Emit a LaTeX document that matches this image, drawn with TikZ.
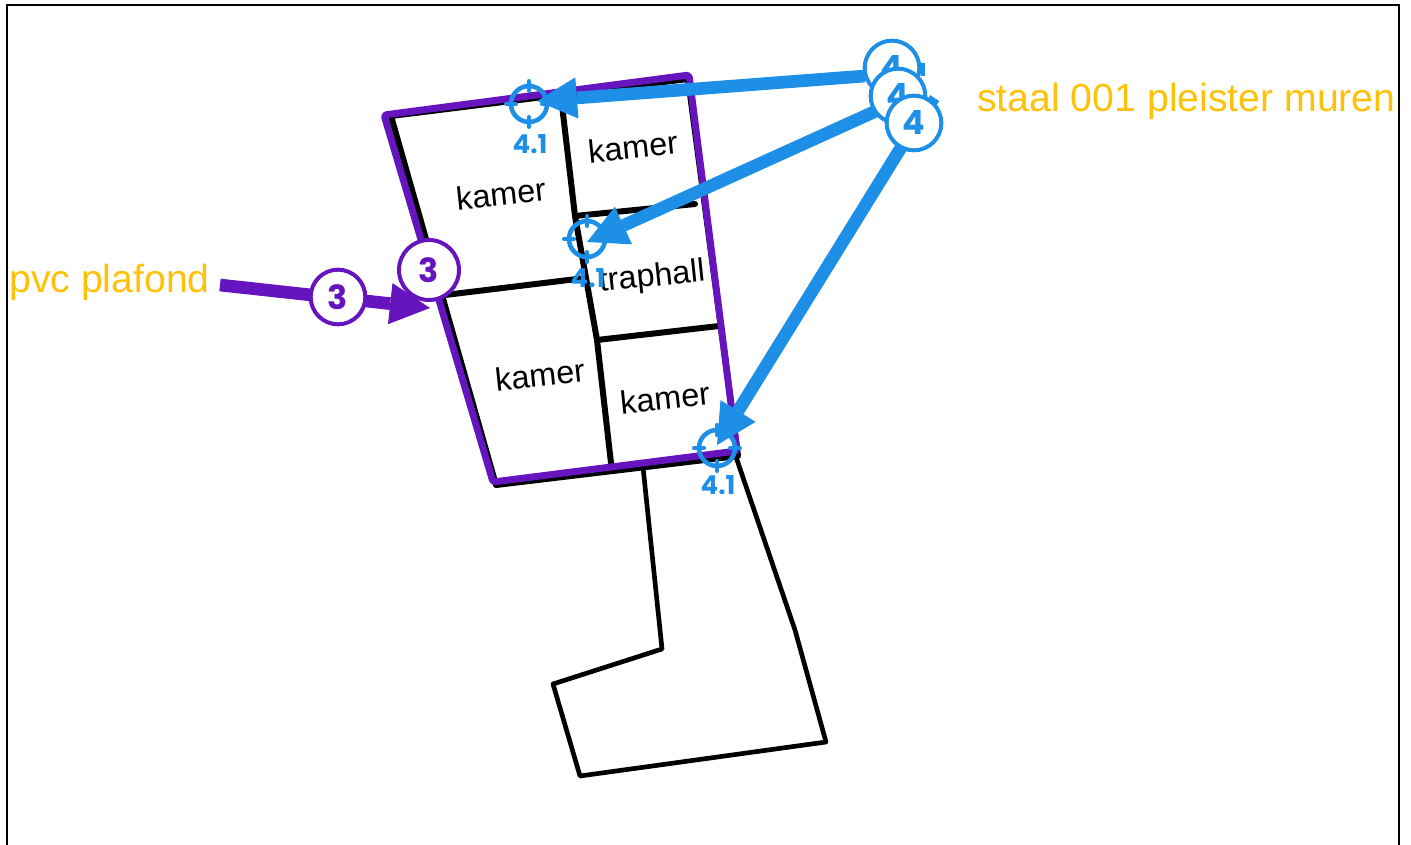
\documentclass[tikz,border=0pt]{standalone}
\usepackage{fontspec}
\setmainfont{Liberation Sans}
\newfontfamily\badgefont{Poppins}
\usetikzlibrary{arrows.meta}
\definecolor{amberc}{HTML}{FFC107}
\definecolor{bluec}{HTML}{1E8FE6}
\definecolor{purplec}{HTML}{6614BE}
\tikzset{
  px/.style={x=0.75pt,y=-0.75pt},
  frameline/.style={draw=black,line width=2pt},
  wall/.style={draw=black,line width=4.5pt,line cap=round,line join=round},
  thinwall/.style={draw=black,line width=3.5pt,line cap=round,line join=round},
  ceiling/.style={draw=purplec,line width=5.2pt,line join=round,rounded corners=2pt},
  room/.style={font=\fontsize{24.3pt}{26pt}\selectfont,text=black,rotate=6,inner sep=0pt},
  material/.style={font=\fontsize{29.4pt}{31pt}\selectfont,text=amberc,inner sep=0pt,anchor=west},
  bluearrow/.style={draw=bluec,line width=9.5pt,-{Triangle[length=30pt,width=31pt,line width=0pt,fill=bluec]}},
  purplearrow/.style={draw=purplec,line width=9.5pt,-{Triangle[length=30pt,width=31pt,line width=0pt,fill=purplec]}},
  badge/.style={circle,fill=white,line width=3pt,inner sep=0pt,font=\badgefont\bfseries\fontsize{25pt}{27pt}\selectfont},
  smallbadge/.style={badge,minimum size=41pt},
  bigbadge/.style={badge,minimum size=45pt},
  target/.style={circle,draw=bluec,line width=3.4pt,minimum size=27pt,inner sep=0pt},
  targetlabel/.style={font=\badgefont\bfseries\fontsize{19.5pt}{21pt}\selectfont,text=bluec,inner sep=0pt},
  tick/.style={draw=bluec,line width=3.6pt,line cap=round},
  stub/.style={draw=bluec,line width=3.4pt}
}
\newcommand{\targetticks}[1]{%
  \draw[tick] ([yshift=10pt]#1.center) -- ([yshift=17pt]#1.center);
  \draw[tick] ([yshift=-10pt]#1.center) -- ([yshift=-17pt]#1.center);
  \draw[tick] ([xshift=10pt]#1.center) -- ([xshift=17pt]#1.center);
  \draw[tick] ([xshift=-10pt]#1.center) -- ([xshift=-17pt]#1.center);
}
\begin{document}
\begin{tikzpicture}[px]
\useasboundingbox (0,0) rectangle (1411,845);
% frame
\coordinate (fa) at (7,850);
\coordinate (fb) at (7,5);
\coordinate (fc) at (1399,5);
\coordinate (fd) at (1399,850);
\begin{scope}
\clip (0,0) rectangle (1411,845);
\draw[frameline] (fa) -- (fb) -- (fc) -- (fd);
\end{scope}
% annex outline
\coordinate (a1) at (643,467);
\coordinate (a2) at (662,649);
\coordinate (a3) at (553,684);
\coordinate (a4) at (580,776);
\coordinate (a5) at (826,742);
\coordinate (a6) at (795,630);
\coordinate (a7) at (736,457);
\draw[thinwall] (a1) -- (a2) -- (a3) -- (a4) -- (a5) -- (a6) -- (a7);
% building walls
\coordinate (w1) at (391,116);
\coordinate (w2) at (688,79);
\coordinate (w3) at (738,456);
\coordinate (w4) at (496,485);
\draw[wall] (w1) -- (w2) -- (w3) -- (w4) -- cycle;
\coordinate (i1) at (562,105);
\coordinate (i2) at (575,216);
\coordinate (i3) at (597,340);
\coordinate (i4) at (611,463);
\coordinate (i5) at (695,204);
\coordinate (i6) at (445,295);
\coordinate (i7) at (585,278);
\coordinate (i8) at (719,326);
\draw[wall] (i1) -- (i2) -- (i3) -- (i4);
\draw[wall] (i2) -- (i5);
\draw[wall] (i6) -- (i7);
\draw[wall] (i3) -- (i8);
% purple ceiling outline
\coordinate (p1) at (384,115);
\coordinate (p2) at (689,75);
\coordinate (p3) at (737,451);
\coordinate (p4) at (493,482);
\draw[ceiling] (p1) -- (p2) -- (p3) -- (p4) -- cycle;
% room names
\node[room] (r1) at (501,194) {kamer};
\node[room] (r2) at (633,147) {kamer};
\node[room] (r3) at (652,278) {traphall};
\node[room] (r4) at (540,375) {kamer};
\node[room] (r5) at (665,398) {kamer};
% material labels
\node[material] (m1) at (977,101) {staal 001 pleister muren};
\node[material] (m2) at (9,282) {pvc plafond};
% targets
\node[target] (t1) at (529,104) {};
\node[target] (t2) at (587,239) {};
\node[target] (t3) at (717,448) {};
\targetticks{t1}
\targetticks{t2}
\targetticks{t3}
\node[targetlabel] (l1) at (530,144) {4.1};
\node[targetlabel] (l2) at (588,278) {4.1};
\node[targetlabel] (l3) at (718,485) {4.1};
% blue callouts
\coordinate (s1) at (923,63);
\coordinate (s2) at (923,76);
\coordinate (s3) at (929,97);
\coordinate (s4) at (938,103);
\draw[stub] (s1) -- (s2);
\draw[stub] (s3) -- (s4);
\node[smallbadge,draw=bluec,text=bluec] (b1) at (892,68) {4};
\node[smallbadge,draw=bluec,text=bluec] (b2) at (898,96) {4};
\node[smallbadge,draw=bluec,text=bluec] (b3) at (914,123) {4};
\coordinate (h1) at (537,101);
\coordinate (h2) at (587,242);
\coordinate (h3) at (717,445);
\coordinate (o1) at (865,76);
\coordinate (o2) at (876,111);
\coordinate (o3) at (902,146);
\draw[bluearrow] (o1) -- (h1);
\draw[bluearrow] (o2) -- (h2);
\draw[bluearrow] (o3) -- (h3);
% purple callout
\coordinate (q0) at (220,285);
\coordinate (q1) at (430,308);
\draw[purplearrow] (q0) -- (q1);
\node[smallbadge,draw=purplec,text=purplec] (c1) at (338,297) {3};
\node[bigbadge,draw=purplec,text=purplec] (c2) at (429,270) {3};
\end{tikzpicture}
\end{document}
